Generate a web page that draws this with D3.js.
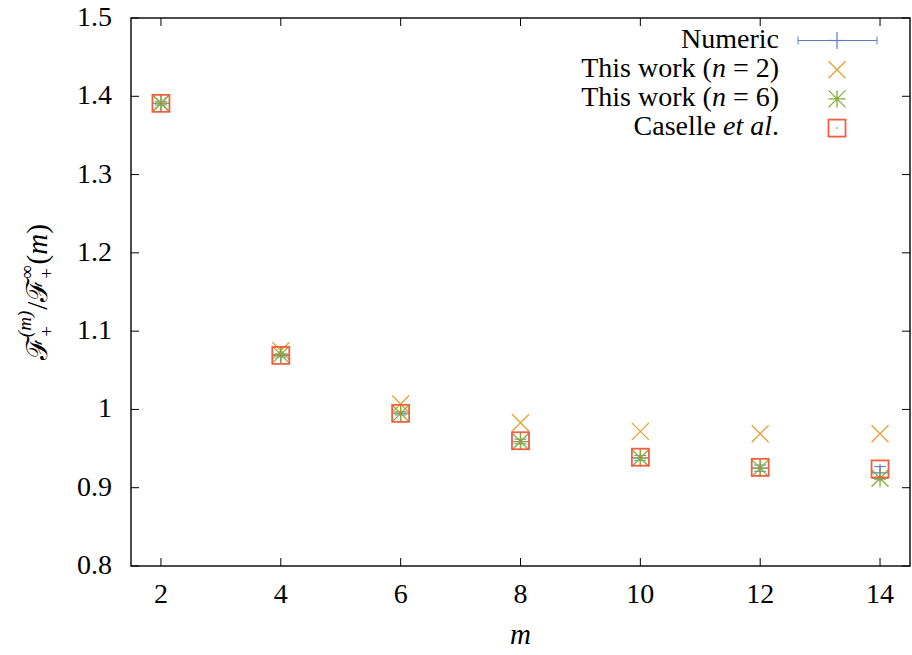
<!DOCTYPE html>
<html>
<head>
<meta charset="utf-8">
<script src="https://cdn.jsdelivr.net/npm/d3@7"></script>
<style>
  svg text, svg tspan { font-family: "Liberation Serif", "Times New Roman", Times, serif !important; }
</style>
</head>
<body style="margin:0">
<script>
let w = 912;
let h = 655;
let margin = { left: 131, right: 2, top: 18, bottom: 89 };

// DATA
let mValues = [2, 4, 6, 8, 10, 12, 14];
let numeric = [1.391, 1.069, 0.995, 0.959, 0.938, 0.925, 0.919];
let numericErr = [0.002, 0.002, 0.002, 0.003, 0.003, 0.004, 0.008];
let thisWorkN2 = [1.391, 1.075, 1.007, 0.983, 0.972, 0.969, 0.969];
let thisWorkN6 = [1.391, 1.070, 0.995, 0.959, 0.938, 0.925, 0.912];
let caselle = [1.391, 1.069, 0.995, 0.960, 0.939, 0.926, 0.924];
let xTicks = [2, 4, 6, 8, 10, 12, 14];
let yTicks = [0.8, 0.9, 1.0, 1.1, 1.2, 1.3, 1.4, 1.5];

let colNumeric = "#5a7fc0";
let colN2 = "#eb9f32";
let colN6 = "#86ab3a";
let colCaselle = "#ee6040";

let viz = d3.select("body").append("svg")
  .attr("width", w)
  .attr("height", h)
  .attr("font-family", "Liberation Serif");

let x = d3.scaleLinear().domain([1.5, 14.5]).range([margin.left, w - margin.right]);
let y = d3.scaleLinear().domain([0.8, 1.5]).range([h - margin.bottom, margin.top]);

let x0 = margin.left, x1 = w - margin.right, y0 = h - margin.bottom, y1 = margin.top;
let tickLen = 8;

// ticks (inward, mirrored)
let axisG = viz.append("g").attr("stroke", "black").attr("stroke-width", 1);
xTicks.forEach(t => {
  axisG.append("line").attr("x1", x(t)).attr("x2", x(t)).attr("y1", y0).attr("y2", y0 - tickLen);
  axisG.append("line").attr("x1", x(t)).attr("x2", x(t)).attr("y1", y1).attr("y2", y1 + tickLen);
});
yTicks.forEach(t => {
  axisG.append("line").attr("x1", x0).attr("x2", x0 + tickLen).attr("y1", y(t)).attr("y2", y(t));
  axisG.append("line").attr("x1", x1).attr("x2", x1 - tickLen).attr("y1", y(t)).attr("y2", y(t));
});
viz.append("rect")
  .attr("x", x0).attr("y", y1).attr("width", x1 - x0).attr("height", y0 - y1)
  .attr("fill", "none").attr("stroke", "black").attr("stroke-width", 1.4);

// tick labels
viz.selectAll(".xlab").data(xTicks).enter().append("text")
  .attr("font-family", "Liberation Serif")
  .attr("x", d => x(d)).attr("y", y0 + 37)
  .attr("text-anchor", "middle").attr("font-size", 28)
  .text(d => d);
viz.selectAll(".ylab").data(yTicks).enter().append("text")
  .attr("font-family", "Liberation Serif")
  .attr("x", x0 - 19).attr("y", d => y(d) + 8)
  .attr("text-anchor", "end").attr("font-size", 28)
  .text(d => d === 1 ? "1" : d3.format(".1f")(d));

// axis titles
viz.append("text")
  .attr("font-family", "Liberation Serif")
  .attr("x", (x0 + x1) / 2).attr("y", 644)
  .attr("text-anchor", "middle").attr("font-size", 29).attr("font-style", "italic")
  .text("m");

let yl = viz.append("text")
  .attr("font-family", "Liberation Serif")
  .attr("transform", "translate(47,292) rotate(-90)")
  .attr("text-anchor", "middle").attr("font-size", 29);
yl.append("tspan").text("ℱ");
yl.append("tspan").attr("font-size", 19).attr("dy", 6).attr("dx", -1).text("+");
yl.append("tspan").attr("font-size", 19).attr("dy", -22).attr("dx", -11).attr("font-style", "italic").text("(m)");
yl.append("tspan").attr("dy", 16).attr("dx", 1).text("/");
yl.append("tspan").text("ℱ");
yl.append("tspan").attr("font-size", 19).attr("dy", 6).attr("dx", -1).text("+");
yl.append("tspan").attr("font-size", 19).attr("dy", -20).attr("dx", -11).text("∞");
yl.append("tspan").attr("dy", 14).attr("dx", 1).text("(");
yl.append("tspan").attr("font-style", "italic").text("m");
yl.append("tspan").text(")");

// marker drawers
let s = 8.5;
function drawPlus(g, cx, cy, col) {
  g.append("line").attr("x1", cx - s).attr("x2", cx + s).attr("y1", cy).attr("y2", cy).attr("stroke", col).attr("stroke-width", 1.2);
  g.append("line").attr("x1", cx).attr("x2", cx).attr("y1", cy - s).attr("y2", cy + s).attr("stroke", col).attr("stroke-width", 1.2);
}
function drawCross(g, cx, cy, col) {
  g.append("path").attr("d", `M${cx - s},${cy - s}L${cx + s},${cy + s}M${cx - s},${cy + s}L${cx + s},${cy - s}`)
    .attr("stroke", col).attr("stroke-width", 1.3).attr("fill", "none");
}
function drawStar(g, cx, cy, col) {
  g.append("path").attr("d", `M${cx - s},${cy - s}L${cx + s},${cy + s}M${cx - s},${cy + s}L${cx + s},${cy - s}M${cx - s},${cy}L${cx + s},${cy}M${cx},${cy - s}L${cx},${cy + s}`)
    .attr("stroke", col).attr("stroke-width", 1.3).attr("fill", "none");
}
function drawBox(g, cx, cy, col) {
  g.append("rect").attr("x", cx - s).attr("y", cy - s).attr("width", 2 * s).attr("height", 2 * s)
    .attr("stroke", col).attr("stroke-width", 1.8).attr("fill", "none");
  g.append("circle").attr("cx", cx).attr("cy", cy).attr("r", 0.8).attr("fill", col);
}

let marks = viz.append("g");
// Numeric with error bars
mValues.forEach((m, i) => {
  let cx = x(m), cy = y(numeric[i]);
  let ytop = y(numeric[i] + numericErr[i]), ybot = y(numeric[i] - numericErr[i]);
  marks.append("line").attr("x1", cx).attr("x2", cx).attr("y1", ytop).attr("y2", ybot).attr("stroke", colNumeric);
  marks.append("line").attr("x1", cx - 6).attr("x2", cx + 6).attr("y1", ytop).attr("y2", ytop).attr("stroke", colNumeric);
  marks.append("line").attr("x1", cx - 6).attr("x2", cx + 6).attr("y1", ybot).attr("y2", ybot).attr("stroke", colNumeric);
  drawPlus(marks, cx, cy, colNumeric);
});
mValues.forEach((m, i) => drawCross(marks, x(m), y(thisWorkN2[i]), colN2));
mValues.forEach((m, i) => drawStar(marks, x(m), y(thisWorkN6[i]), colN6));
mValues.forEach((m, i) => drawBox(marks, x(m), y(caselle[i]), colCaselle));

// legend
let legendNames = ["Numeric", "This work (n = 2)", "This work (n = 6)", "Caselle et al."];
let lg = viz.append("g");
let lx = 779, sx = 837, ly0 = 40.5, ldy = 29.2;
legendNames.forEach((name, i) => {
  let t = lg.append("text").attr("font-family", "Liberation Serif")
    .attr("x", lx).attr("y", ly0 + i * ldy + 7)
    .attr("text-anchor", "end").attr("font-size", 28);
  if (i === 1 || i === 2) {
    t.append("tspan").text("This work (");
    t.append("tspan").attr("font-style", "italic").text("n");
    t.append("tspan").text(" = " + (i === 1 ? 2 : 6) + ")");
  } else if (i === 3) {
    t.append("tspan").text("Caselle ");
    t.append("tspan").attr("font-style", "italic").text("et al");
    t.append("tspan").text(".");
  } else {
    t.text(name);
  }
});
// numeric legend sample
let ny = ly0;
lg.append("line").attr("x1", 798).attr("x2", 877).attr("y1", ny).attr("y2", ny).attr("stroke", colNumeric);
lg.append("line").attr("x1", 798).attr("x2", 798).attr("y1", ny - 4).attr("y2", ny + 4).attr("stroke", colNumeric);
lg.append("line").attr("x1", 877).attr("x2", 877).attr("y1", ny - 4).attr("y2", ny + 4).attr("stroke", colNumeric);
drawPlus(lg, sx, ny, colNumeric);
drawCross(lg, sx, ly0 + ldy, colN2);
drawStar(lg, sx, ly0 + 2 * ldy, colN6);
drawBox(lg, sx, ly0 + 3 * ldy, colCaselle);
</script>
</body>
</html>
